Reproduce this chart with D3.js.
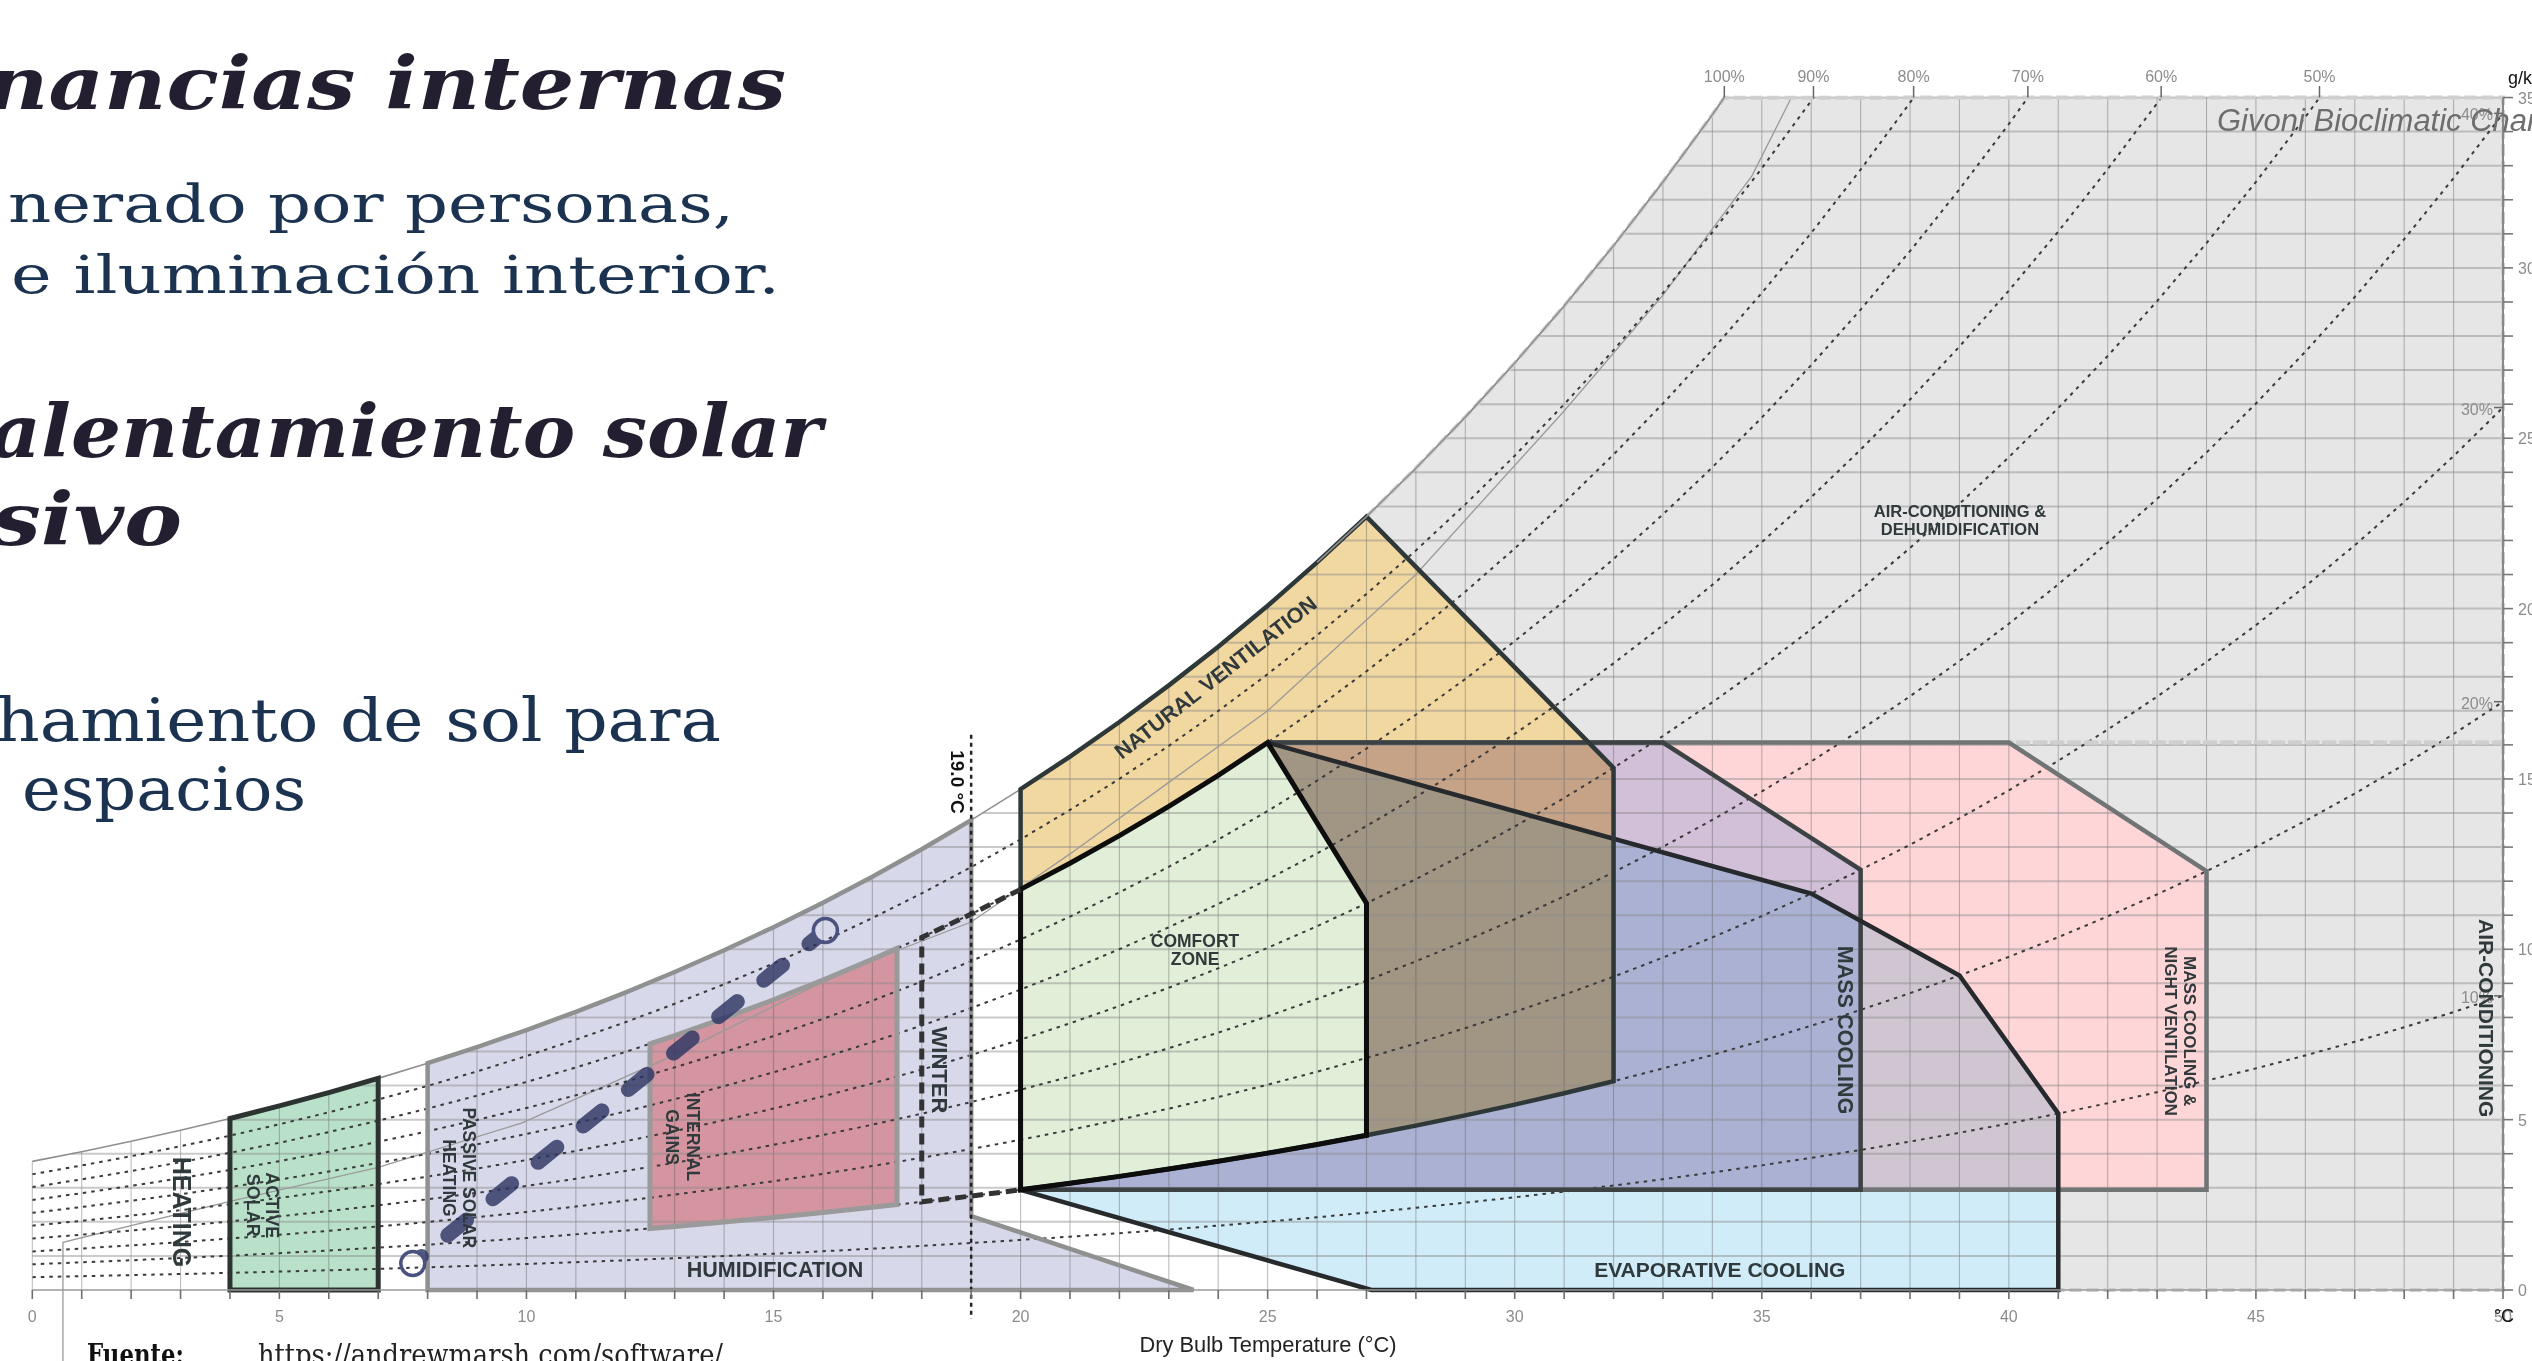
<!DOCTYPE html>
<html><head><meta charset="utf-8">
<script src="https://cdn.jsdelivr.net/npm/d3@7"></script>
<style>
html,body{margin:0;padding:0;background:#fff;overflow:hidden;}
svg{display:block;}
</style></head><body>
<svg id="chart" width="2532" height="1361"></svg>
<script>
// ================= DATA =================
// dry-bulb temperatures (°C) and saturation humidity ratio (g/kg, sea level)
const temps = d3.range(0, 51);
const satHumidity = [3.775,4.060,4.364,4.688,5.034,5.403,5.795,6.212,6.657,7.129,
  7.631,8.165,8.731,9.334,9.972,10.649,11.368,12.130,12.937,13.792,
  14.698,15.657,16.672,17.746,18.883,20.084,21.356,22.700,24.120,25.621,
  27.207,28.883,30.652,32.522,34.497,36.581,38.782,41.107,43.562,46.153,
  48.889,51.778,54.830,58.053,61.456,65.051,68.850,72.864,77.107,81.593,86.338];
const xTicks = [0,5,10,15,20,25,30,35,40,45,50];
const yTicks = [0,5,10,15,20,25,30,35];
const rhLevels = [0.1,0.2,0.3,0.4,0.5,0.6,0.7,0.8,0.9];
const rhTopLevels = [1.0,0.9,0.8,0.7,0.6,0.5];
const rhTopLabels = ["100%","90%","80%","70%","60%","50%"];
const rhSideLevels = [0.4,0.3,0.2,0.1];
const rhSideLabels = ["40%","30%","20%","10%"];

// zones: vertices as temperature + (humidity ratio w | relative humidity rh)
const comfortZone = [{t:20,rh:.2},{t:20,rh:.8},{t:25,rh:.8},{t:27,rh:.5},{t:27,rh:.2}];
const naturalVentilation = [{t:20,rh:.2},{t:20,rh:1},{t:27,rh:1},{t:32,rh:.5},{t:32,rh:.2}];
const evaporativeCooling = [{t:20,rh:.2},{t:25,rh:.8},{t:36,rh:.3},{t:39,rh:.2},{t:41,rh:.1},{t:41,w:0},{t:27.1,w:0}];
const massCooling = [{t:20,rh:.2},{t:25,rh:.8},{t:33,w:16.07},{t:37,rh:.3},{t:37,w:2.94}];
const massCoolingNightVent = [{t:20,rh:.2},{t:25,rh:.8},{t:40,w:16.07},{t:44,rh:.2},{t:44,w:2.94}];
const passiveSolar = [{t:8,w:0},{t:8,rh:1},{t:19,rh:1},{t:19,w:2.17},{t:23.5,w:0}];
const internalGains = [{t:12.5,rh:.2},{t:12.5,rh:.8},{t:17.5,rh:.8},{t:17.5,rh:.2}];
const activeSolar = [{t:4,w:0},{t:4,rh:1},{t:7,rh:1},{t:7,w:0}];
const winterZone = [{t:20,rh:.8},{t:18,rh:.8},{t:18,rh:.2},{t:20,rh:.2}];
const acDehumid = [{t:27,rh:1},{t:34.24,rh:1},{t:50,w:35},{t:50,w:16.07},{t:31.5,w:16.07}];
const airConditioning = [{t:50,w:16.07},{t:50,w:0},{t:41,w:0},{t:41,w:2.94},{t:44,w:2.94},{t:44,rh:.2},{t:40,w:16.07}];

// design path (two states) and thin reference line
const designT = [7.7, 16.05];
const designW = [0.78, 10.55];
const thinLineT = [0.62,0.62,4,7,9.9,13,16.5,19,20,21,23,25,28,31,33,34.8,35.6];
const thinLineW = [-2.1,1.4,2.6,3.6,4.9,6.9,9.4,10.8,11.8,12.8,14.9,17.0,21.0,25.8,29.2,32.7,35];
const winterLimitT = 19.0;

// ================= LAYOUT =================
const svg = d3.select("#chart");
const x = d3.scaleLinear().domain([0,50]).range([32.3,2503]);
const y = d3.scaleLinear().domain([0,35]).range([1290,97.55]);
const wsat = d3.scaleLinear().domain(temps).range(satHumidity);
const tsat = d3.scaleLinear().domain(satHumidity).range(temps);
const tTop = tsat(35);
const line = d3.line().x(d=>x(d[0])).y(d=>y(d[1]));

function vW(v){ return v.w !== undefined ? v.w : v.rh*wsat(v.t); }
function zonePts(verts, closed=true){
  const pts=[], n=verts.length, m = closed ? n : n-1;
  for(let i=0;i<m;i++){
    const a=verts[i], b=verts[(i+1)%n];
    pts.push([a.t, vW(a)]);
    if(a.rh!==undefined && b.rh!==undefined && a.rh===b.rh && a.t!==b.t){
      const lo=Math.min(a.t,b.t), hi=Math.max(a.t,b.t);
      let inner = d3.range(Math.floor(lo)+1, Math.ceil(hi)).filter(t=>t>lo && t<hi);
      if(a.t>b.t) inner.reverse();
      inner.forEach(t=>pts.push([t, a.rh*wsat(t)]));
    }
  }
  if(!closed) pts.push([verts[n-1].t, vW(verts[n-1])]);
  return pts;
}
function zonePath(verts, closed=true){ return line(zonePts(verts, closed)) + (closed?"Z":""); }
// outline without the first edge (hidden under the comfort zone)
function outlineSkipFirst(verts){ return zonePath(verts.slice(1).concat([verts[0]]), false); }

const defs = svg.append("defs");
defs.append("clipPath").attr("id","plotClip").append("rect")
  .attr("x",x(0)).attr("y",y(35)).attr("width",x(50)-x(0)).attr("height",y(0)-y(35));

// ---------- headings (slide text) ----------
const serif = "'DejaVu Serif', 'Liberation Serif', serif";
const headings = [
  {text:"nancias internas", x0:-14, x1:786, y:109, size:72, bold:true},
  {text:"nerado por personas,", x0:8, x1:734, y:222, size:52},
  {text:"e iluminación interior.", x0:11, x1:780, y:293, size:52},
  {text:"alentamiento solar", x0:-10, x1:822, y:457, size:72, bold:true},
  {text:"sivo", x0:-8, x1:182, y:545, size:72, bold:true},
  {text:"hamiento de sol para", x0:-4, x1:721, y:741, size:60},
  {text:"espacios", x0:22, x1:306, y:810, size:60}
];
headings.forEach(h=>{
  svg.append("text").attr("x",h.x0).attr("y",h.y)
    .attr("font-family",serif).attr("font-size",h.size)
    .attr("font-weight",h.bold?"bold":"normal").attr("font-style",h.bold?"italic":"normal")
    .attr("fill",h.bold?"#241f30":"#1b3350")
    .attr("textLength",h.x1-h.x0).attr("lengthAdjust","spacingAndGlyphs")
    .text(h.text);
});
svg.append("text").attr("x",87).attr("y",1365).attr("font-family",serif).attr("font-size",30)
  .attr("font-weight","bold").attr("fill","#111").attr("textLength",97).attr("lengthAdjust","spacingAndGlyphs").text("Fuente:");
svg.append("text").attr("x",258).attr("y",1365).attr("font-family",serif).attr("font-size",30)
  .attr("fill","#222").attr("textLength",465).attr("lengthAdjust","spacingAndGlyphs").text("https://andrewmarsh.com/software/");

// ---------- zone fills ----------
const gFill = svg.append("g");
const fills = [
  {v:acDehumid, c:"#e6e6e6"},
  {v:airConditioning, c:"#e6e6e6"},
  {v:passiveSolar, c:"#d7d8ea"},
  {v:internalGains, c:"#d495a0"},
  {v:activeSolar, c:"#b9e1c9"},
  {v:massCoolingNightVent, c:"#ffd6d8", mult:true},
  {v:massCooling, c:"#d2e5ff", mult:true},
  {v:evaporativeCooling, c:"#d0ecf8", mult:true},
  {v:naturalVentilation, c:"#f1d7a0", mult:true},
  {v:comfortZone, c:"#e1efd9"}
];
fills.forEach(f=>{
  const p = gFill.append("path").attr("d",zonePath(f.v)).attr("fill",f.c).attr("stroke","none");
  if(f.mult) p.style("mix-blend-mode","multiply");
});

// ---------- grid ----------
const gGrid = svg.append("g");
temps.forEach(t=>{
  gGrid.append("line").attr("x1",x(t)).attr("x2",x(t)).attr("y1",y(0)).attr("y2",y(Math.min(wsat(t),35)))
    .attr("stroke","#555").attr("stroke-opacity",0.38).attr("stroke-width",1.1);
});
d3.range(1,36).forEach(w=>{
  const t0 = w < satHumidity[0] ? 0 : tsat(w);
  gGrid.append("line").attr("x1",x(t0)).attr("x2",x(50)).attr("y1",y(w)).attr("y2",y(w))
    .attr("stroke","#8a8a8a").attr("stroke-opacity",0.45).attr("stroke-width",2);
});

// ---------- thin reference line ----------
svg.append("path").attr("d",line(thinLineT.map((t,i)=>[t,thinLineW[i]])))
  .attr("fill","none").attr("stroke","#9a9a9a").attr("stroke-width",1.3);

// ---------- RH curves ----------
const gRH = svg.append("g").attr("clip-path","url(#plotClip)");
rhLevels.forEach(r=>{
  gRH.append("path").attr("d",line(temps.map((t,i)=>[t, r*satHumidity[i]])))
    .attr("fill","none").attr("stroke","#3a3a3a").attr("stroke-width",2).attr("stroke-dasharray","3.5 5");
});
const satPts = temps.filter(t=>t<tTop).map(t=>[t,wsat(t)]).concat([[tTop,35]]);
svg.append("path").attr("d",line(satPts)).attr("fill","none").attr("stroke","#8f8f8f").attr("stroke-width",1.6);

// ---------- zone outlines ----------
const gStroke = svg.append("g").attr("fill","none").attr("stroke-linejoin","miter");
[[zonePath(acDehumid),"#cfcfcf",4,"12 5"],[zonePath(airConditioning),"#cfcfcf",4,"12 5"],
 [zonePath(passiveSolar),"#8f9090",4.5],[zonePath(internalGains),"#9a9a9a",5],[zonePath(activeSolar),"#2c3331",5],
 [outlineSkipFirst(massCoolingNightVent),"#707474",4.5],[outlineSkipFirst(massCooling),"#3c4244",4.5],
 [outlineSkipFirst(evaporativeCooling),"#262a2c",4.5],
 [zonePath(naturalVentilation),"#2f3838",4.5],[zonePath(comfortZone),"#0d0d0d",5]].forEach(s=>{
  const p = gStroke.append("path").attr("d",s[0]).attr("stroke",s[1]).attr("stroke-width",s[2]);
  if(s[3]) p.attr("stroke-dasharray",s[3]);
});
svg.append("path").attr("d",line(satPts.filter(d=>d[0]>=26))).attr("fill","none").attr("stroke","#8f8f8f").attr("stroke-width",1.6);

// winter comfort (dashed)
svg.append("path").attr("d",zonePath(winterZone,false)).attr("fill","none")
  .attr("stroke","#333").attr("stroke-width",5).attr("stroke-dasharray","11 6");

// 19 °C limit
svg.append("line").attr("x1",x(winterLimitT)).attr("x2",x(winterLimitT)).attr("y1",y(16.3)).attr("y2",y(-0.85))
  .attr("stroke","#222").attr("stroke-width",2.5).attr("stroke-dasharray","4 4");

// design path with circles
const mask = defs.append("mask").attr("id","circMask");
mask.append("rect").attr("x",0).attr("y",0).attr("width",2532).attr("height",1361).attr("fill","#fff");
designT.forEach((t,i)=>mask.append("circle").attr("cx",x(t)).attr("cy",y(designW[i])).attr("r",12).attr("fill","#000"));
svg.append("path").attr("d",line(designT.map((t,i)=>[t,designW[i]])))
  .attr("fill","none").attr("stroke","#2e3663").attr("stroke-opacity",0.82).attr("stroke-width",15)
  .attr("stroke-linecap","round").attr("stroke-dasharray","24 34").attr("stroke-dashoffset",13)
  .attr("mask","url(#circMask)");
designT.forEach((t,i)=>svg.append("circle").attr("cx",x(t)).attr("cy",y(designW[i])).attr("r",12)
  .attr("fill","none").attr("stroke","#4b5280").attr("stroke-width",3.5));

// ---------- axes ----------
const sans = "'Liberation Sans', Arial, sans-serif";
const gAx = svg.append("g");
gAx.append("line").attr("x1",x(0)).attr("x2",x(50)).attr("y1",y(0)).attr("y2",y(0)).attr("stroke","#999").attr("stroke-width",1.5);
temps.forEach(t=>gAx.append("line").attr("x1",x(t)).attr("x2",x(t)).attr("y1",y(0)).attr("y2",y(0)+9).attr("stroke","#6e6e6e").attr("stroke-width",1.6));
xTicks.forEach(t=>gAx.append("text").attr("x",x(t)).attr("y",1322).attr("text-anchor","middle")
  .attr("font-family",sans).attr("font-size",16).attr("fill","#8c8c8c").text(t));
gAx.append("line").attr("x1",x(50)).attr("x2",x(50)).attr("y1",y(0)).attr("y2",y(35)).attr("stroke","#888").attr("stroke-width",2);
d3.range(0,36).forEach(w=>gAx.append("line").attr("x1",x(50)).attr("x2",x(50)+10).attr("y1",y(w)).attr("y2",y(w)).attr("stroke","#777").attr("stroke-width",1.6));
yTicks.forEach(w=>gAx.append("text").attr("x",x(50)+15).attr("y",y(w)+6).attr("font-family",sans)
  .attr("font-size",16).attr("fill","#8c8c8c").text(w));
rhTopLevels.forEach((r,i)=>{
  const t = tsat(35/r);
  gAx.append("line").attr("x1",x(t)).attr("x2",x(t)).attr("y1",86).attr("y2",y(35)).attr("stroke","#666").attr("stroke-width",1.5);
  gAx.append("text").attr("x",x(t)).attr("y",82).attr("text-anchor","middle").attr("font-family",sans)
    .attr("font-size",16).attr("fill","#8c8c8c").text(rhTopLabels[i]);
});
rhSideLevels.forEach((r,i)=>{
  const w = r*satHumidity[50];
  gAx.append("line").attr("x1",x(50)-9).attr("x2",x(50)).attr("y1",y(w)).attr("y2",y(w)).attr("stroke","#666").attr("stroke-width",1.5);
  gAx.append("text").attr("x",x(50)-10).attr("y",y(w)+7).attr("text-anchor","end").attr("font-family",sans)
    .attr("font-size",16).attr("fill","#8c8c8c").text(rhSideLabels[i]);
});
gAx.append("text").attr("x",2508).attr("y",84).attr("font-family",sans).attr("font-size",18).attr("fill","#111").text("g/kg");
gAx.append("text").attr("x",2504).attr("y",1322).attr("text-anchor","middle").attr("font-family",sans).attr("font-size",18).attr("fill","#111").text("°C");
gAx.append("text").attr("x",1268).attr("y",1352).attr("text-anchor","middle").attr("font-family",sans)
  .attr("font-size",22).attr("fill","#222").attr("textLength",257).attr("lengthAdjust","spacingAndGlyphs").text("Dry Bulb Temperature (°C)");
svg.append("text").attr("x",2217).attr("y",131).attr("font-family",sans).attr("font-size",31)
  .attr("font-style","italic").attr("fill","#6e6e6e").text("Givoni Bioclimatic Chart");

// ---------- zone labels ----------
const zoneLabels = [
  {lines:["HEATING"], t:3.03, w:2.29, size:25, rot:90},
  {lines:["ACTIVE","SOLAR"], t:4.66, w:2.49, size:18, rot:90, gap:19},
  {lines:["PASSIVE SOLAR","HEATING"], t:8.64, w:3.29, size:17.5, rot:90, gap:20},
  {lines:["INTERNAL","GAINS"], t:13.16, w:4.49, size:17.5, rot:90, gap:21},
  {lines:["WINTER"], t:18.37, w:6.46, size:22, rot:90},
  {lines:["19.0 °C"], t:18.73, w:14.91, size:19, rot:90, fill:"#111"},
  {lines:["HUMIDIFICATION"], t:15.03, w:0.62, size:21.5, rot:0},
  {lines:["COMFORT","ZONE"], t:23.53, w:10.0, size:17.5, rot:0, gap:18},
  {lines:["NATURAL VENTILATION"], t:23.94, w:17.99, size:21.5, rot:-38},
  {lines:["MASS COOLING"], t:36.69, w:7.63, size:21.5, rot:90},
  {lines:["MASS COOLING &","NIGHT VENTILATION"], t:43.48, w:7.6, size:17, rot:90, gap:19},
  {lines:["AIR-CONDITIONING &","DEHUMIDIFICATION"], t:39.01, w:22.6, size:16.5, rot:0, gap:18},
  {lines:["EVAPORATIVE COOLING"], t:34.15, w:0.59, size:21, rot:0},
  {lines:["AIR-CONDITIONING"], t:49.66, w:7.98, size:21, rot:90}
];
zoneLabels.forEach(l=>{
  const g = svg.append("g").attr("transform",`translate(${x(l.t)},${y(l.w)}) rotate(${l.rot})`);
  const n = l.lines.length, gap = l.gap||0;
  l.lines.forEach((s,i)=>{
    g.append("text").attr("x",0).attr("y",(i-(n-1)/2)*gap).attr("dy","0.36em")
      .attr("text-anchor","middle").attr("font-family",sans).attr("font-weight","bold")
      .attr("font-size",l.size).attr("fill",l.fill||"#30393b").text(s);
  });
});
</script>
</body></html>
